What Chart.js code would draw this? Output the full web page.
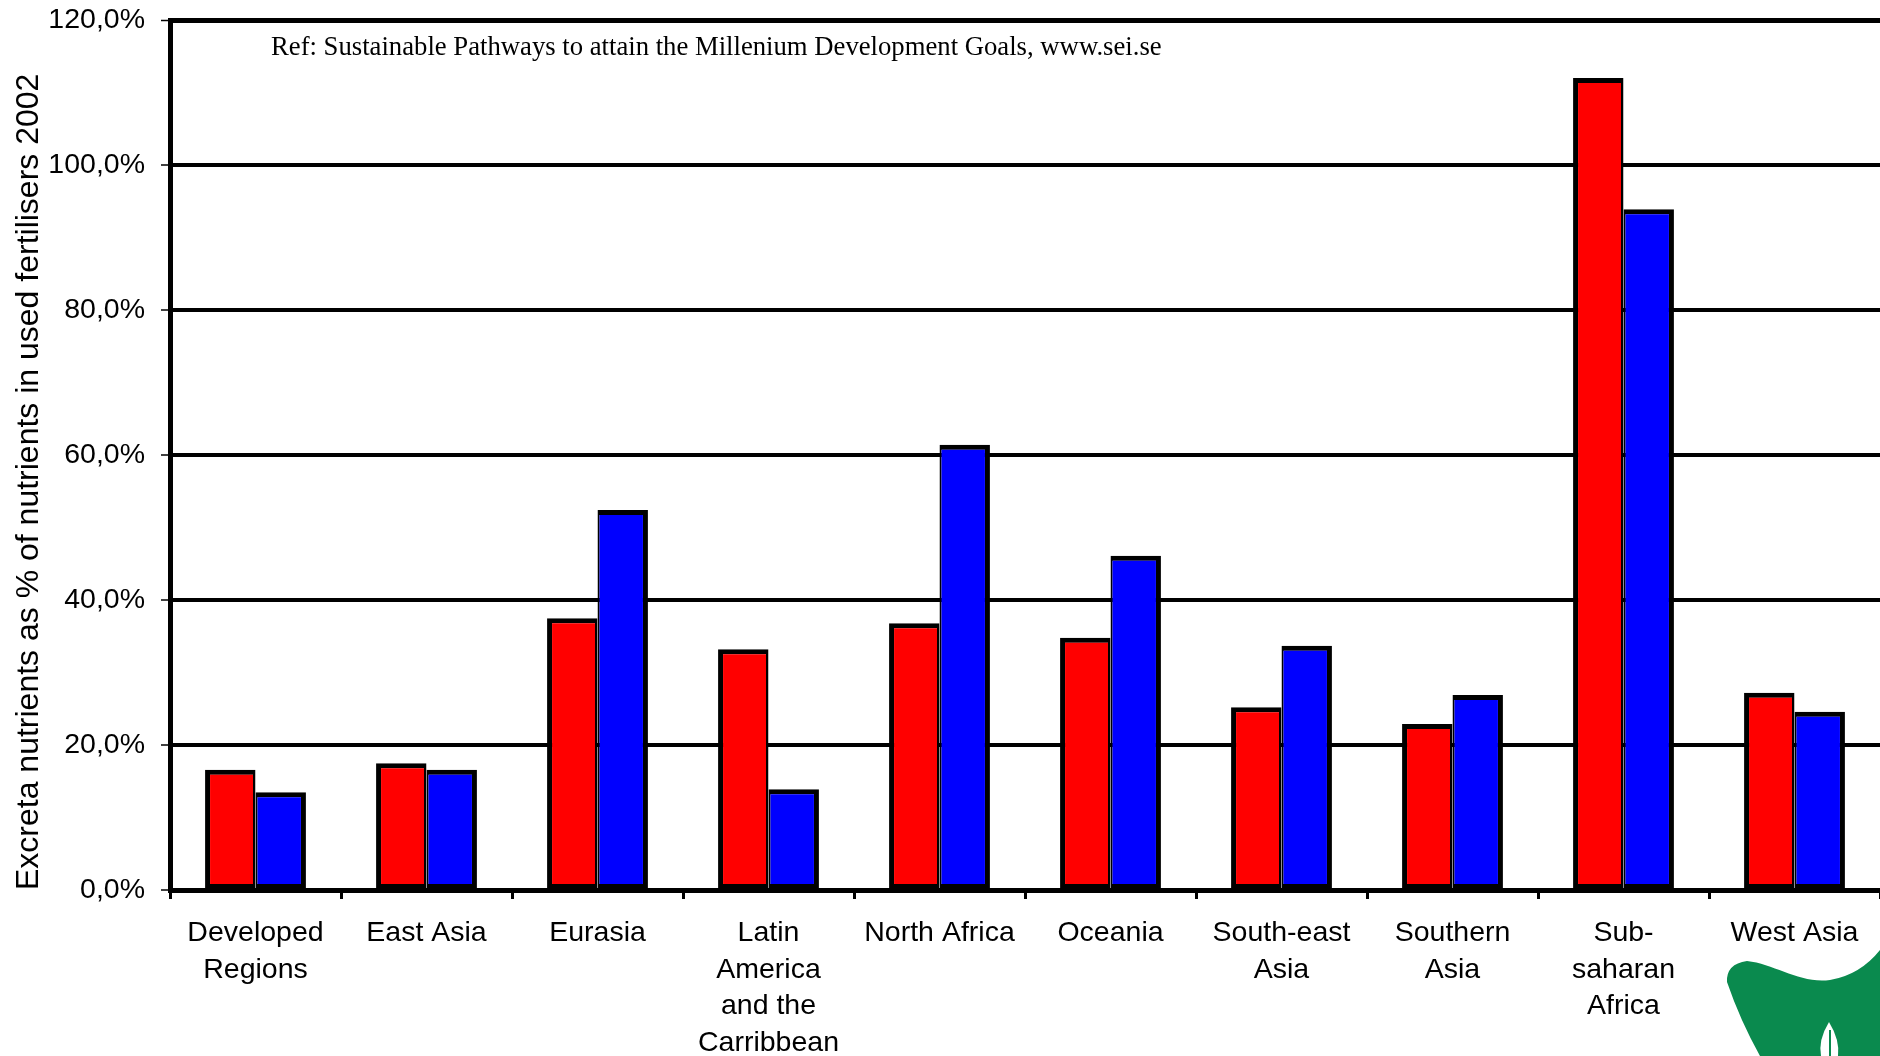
<!DOCTYPE html>
<html>
<head>
<meta charset="utf-8">
<script src="https://cdn.jsdelivr.net/npm/chart.js@4.4.0/dist/chart.umd.min.js"></script>
<style>
    html, body { margin: 0; padding: 0; background: #fff; }
    #wrap { width: 1880px; height: 1056px; }
</style>
</head>
<body>
<div id="wrap"><canvas id="myChart" width="1880" height="1056"></canvas></div>
<script>
// categories (multi-line labels as in the original)
const regions = [
    ['Developed', 'Regions'], 'East Asia', 'Eurasia',
    ['Latin', 'America', 'and the', 'Carribbean'],
    'North Africa', 'Oceania', ['South-east', 'Asia'], ['Southern', 'Asia'],
    ['Sub-', 'saharan', 'Africa'], 'West Asia'
];
// excreta nutrients as % of fertiliser nutrients
const redValues  = [16.6, 17.5, 37.5, 33.2, 36.8, 34.8, 25.2, 22.9, 112.0, 27.2];
const blueValues = [13.5, 16.6, 52.4, 13.9, 61.4, 46.1, 33.7, 26.9, 93.9, 24.6];
const yTicks = [0, 20, 40, 60, 80, 100, 120];

const sansFont = '"Liberation Sans", Arial, sans-serif';
const refText = 'Ref: Sustainable Pathways to attain the Millenium Development Goals, www.sei.se';

// small note at the top of the plot area
const refNote = {
    id: 'refNote',
    afterDraw(chart) {
        const ctx = chart.ctx;
        ctx.save();
        ctx.font = '26.7px "Liberation Serif", "Times New Roman", serif';
        ctx.fillStyle = '#000';
        ctx.textBaseline = 'alphabetic';
        ctx.fillText(refText, chart.chartArea.left + 101, chart.chartArea.top + 35);
        ctx.restore();
    }
};

// the green SEI logo peeking in at the bottom right corner
const seiLogo = {
    id: 'seiLogo',
    afterDraw(chart) {
        const ctx = chart.ctx;
        ctx.save();
        ctx.fillStyle = 'rgb(10,138,78)';
        ctx.beginPath();
        ctx.moveTo(1727, 982);
        ctx.quadraticCurveTo(1726, 964, 1747, 961);
        ctx.bezierCurveTo(1775, 964, 1800, 984, 1830, 980);
        ctx.quadraticCurveTo(1860, 975, 1880, 950);
        ctx.lineTo(1880, 1056);
        ctx.lineTo(1760, 1056);
        ctx.quadraticCurveTo(1740, 1020, 1727, 982);
        ctx.closePath();
        ctx.fill();
        // white leaf
        ctx.fillStyle = '#fff';
        ctx.beginPath();
        ctx.moveTo(1829, 1022);
        ctx.quadraticCurveTo(1818, 1040, 1821, 1056);
        ctx.lineTo(1838, 1056);
        ctx.quadraticCurveTo(1840, 1040, 1829, 1022);
        ctx.closePath();
        ctx.fill();
        ctx.strokeStyle = 'rgb(10,138,78)';
        ctx.lineWidth = 2;
        ctx.beginPath();
        ctx.moveTo(1830, 1030);
        ctx.lineTo(1830, 1056);
        ctx.stroke();
        ctx.restore();
    }
};

const ctx = document.getElementById('myChart').getContext('2d');
const myChart = new Chart(ctx, {
    type: 'bar',
    data: {
        labels: regions,
        datasets: [
            {
                label: 'Red',
                data: redValues,
                backgroundColor: '#FF0000',
                borderColor: '#000',
                borderWidth: { top: 5, left: 5, right: 2.5, bottom: 4 },
                borderSkipped: false,
                categoryPercentage: 0.59,
                barPercentage: 1.0
            },
            {
                label: 'Blue',
                data: blueValues,
                backgroundColor: '#0000FF',
                borderColor: '#000',
                borderWidth: { top: 5, left: 2, right: 5, bottom: 4 },
                borderSkipped: false,
                categoryPercentage: 0.59,
                barPercentage: 1.0
            }
        ]
    },
    options: {
        responsive: false,
        animation: false,
        layout: { padding: { top: 20, right: 0, bottom: 0, left: 0 } },
        plugins: {
            legend: { display: false },
            tooltip: { enabled: false }
        },
        scales: {
            x: {
                grid: {
                    offset: true,
                    drawOnChartArea: false,
                    drawTicks: true,
                    tickLength: 9,
                    tickWidth: 3,
                    tickColor: '#000'
                },
                border: { color: '#000', width: 5 },
                ticks: {
                    color: '#000',
                    font: { family: sansFont, size: 28.5, lineHeight: 1.28 },
                    padding: 16,
                    maxRotation: 0,
                    autoSkip: false
                },
                afterFit: s => { s.height = 166; }
            },
            y: {
                min: 0,
                max: 120,
                afterBuildTicks: s => { s.ticks = yTicks.map(v => ({ value: v })); },
                grid: {
                    color: '#000',
                    lineWidth: c => (c.tick && c.tick.value === 120) ? 5 : 4,
                    drawTicks: true,
                    tickLength: 9,
                    tickWidth: 1.5,
                    tickColor: '#000'
                },
                border: { color: '#000', width: 5 },
                ticks: {
                    color: '#000',
                    font: { family: sansFont, size: 28.5 },
                    padding: 16,
                    callback: v => v.toFixed(1).replace('.', ',') + '%'
                },
                title: {
                    display: true,
                    text: 'Excreta nutrients as % of nutrients in used fertilisers 2002',
                    color: '#000',
                    align: 'start',
                    font: { family: sansFont, size: 32 },
                    padding: { top: 10, bottom: 0 }
                },
                afterFit: s => {
                    s.width = 170;
                    // let the layout padding decide where the plot starts
                    s.paddingTop = 0;
                    s.paddingBottom = 0;
                }
            }
        }
    },
    plugins: [refNote, seiLogo]
});
</script>
</body>
</html>
